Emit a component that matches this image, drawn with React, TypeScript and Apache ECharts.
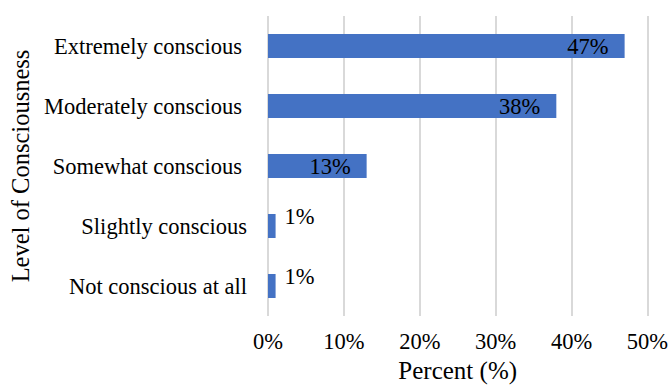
import React, { useEffect, useRef } from "react";
import * as echarts from "echarts";

const categories = [
  "Extremely conscious",
  "Moderately conscious",
  "Somewhat conscious",
  "Slightly conscious",
  "Not conscious at all",
];
const percents = [47, 38, 13, 1, 1];
const xTicks = { min: 0, max: 50, interval: 10 };
// the upper three category labels sit a little further from the axis
const paddedLabels = ["Extremely conscious", "Moderately conscious", "Somewhat conscious"];

const FONT = '"Liberation Serif", "Times New Roman", serif';

export default function App() {
  const ref = useRef<HTMLDivElement>(null);

  useEffect(() => {
    if (!ref.current) return;
    const chart = echarts.init(ref.current, null, { renderer: "svg" });

    // long bars carry their label inside the end, short ones just outside
    const data = percents.map((v) => ({
      value: v,
      label:
        v >= 10
          ? { position: "insideRight", distance: 16 }
          : { position: "right", distance: 9, offset: [0, -10] },
    }));

    const catStyle = { fontFamily: FONT, fontSize: 22.5, color: "#000" };

    chart.setOption({
      animation: false,
      textStyle: { fontFamily: FONT },
      grid: { left: 267, right: 23, top: 16, bottom: 72, containLabel: false },
      xAxis: {
        type: "value",
        min: xTicks.min,
        max: xTicks.max,
        interval: xTicks.interval,
        name: "Percent (%)",
        nameLocation: "middle",
        nameGap: 39,
        nameTextStyle: { fontFamily: FONT, fontSize: 25, color: "#000" },
        axisLabel: {
          formatter: "{value}%",
          fontFamily: FONT,
          fontSize: 22.5,
          color: "#000",
          margin: 14,
        },
        axisLine: { show: false },
        axisTick: { show: false },
        splitLine: { show: true, lineStyle: { color: "#d9d9d9", width: 2 } },
      },
      yAxis: {
        type: "category",
        data: categories,
        inverse: true,
        name: "Level of Consciousness",
        nameLocation: "middle",
        nameGap: 235,
        nameRotate: 90,
        nameTextStyle: { fontFamily: FONT, fontSize: 24.5, color: "#000" },
        axisLabel: {
          ...catStyle,
          margin: 21,
          formatter: (v: string) =>
            paddedLabels.includes(v) ? `{p|${v}}` : `{n|${v}}`,
          rich: {
            p: { ...catStyle, padding: [0, 5, 0, 0] },
            n: { ...catStyle },
          },
        },
        axisLine: { show: false },
        axisTick: { show: false },
        splitLine: { show: false },
      },
      series: [
        {
          type: "bar",
          data,
          barWidth: 24,
          itemStyle: { color: "#4472c4" },
          label: {
            show: true,
            formatter: "{c}%",
            fontFamily: FONT,
            fontSize: 22.5,
            color: "#000",
          },
        },
      ],
    });

    return () => chart.dispose();
  }, []);

  return <div ref={ref} style={{ width: 671, height: 388, position: "absolute", left: 0, top: 0 }} />;
}
